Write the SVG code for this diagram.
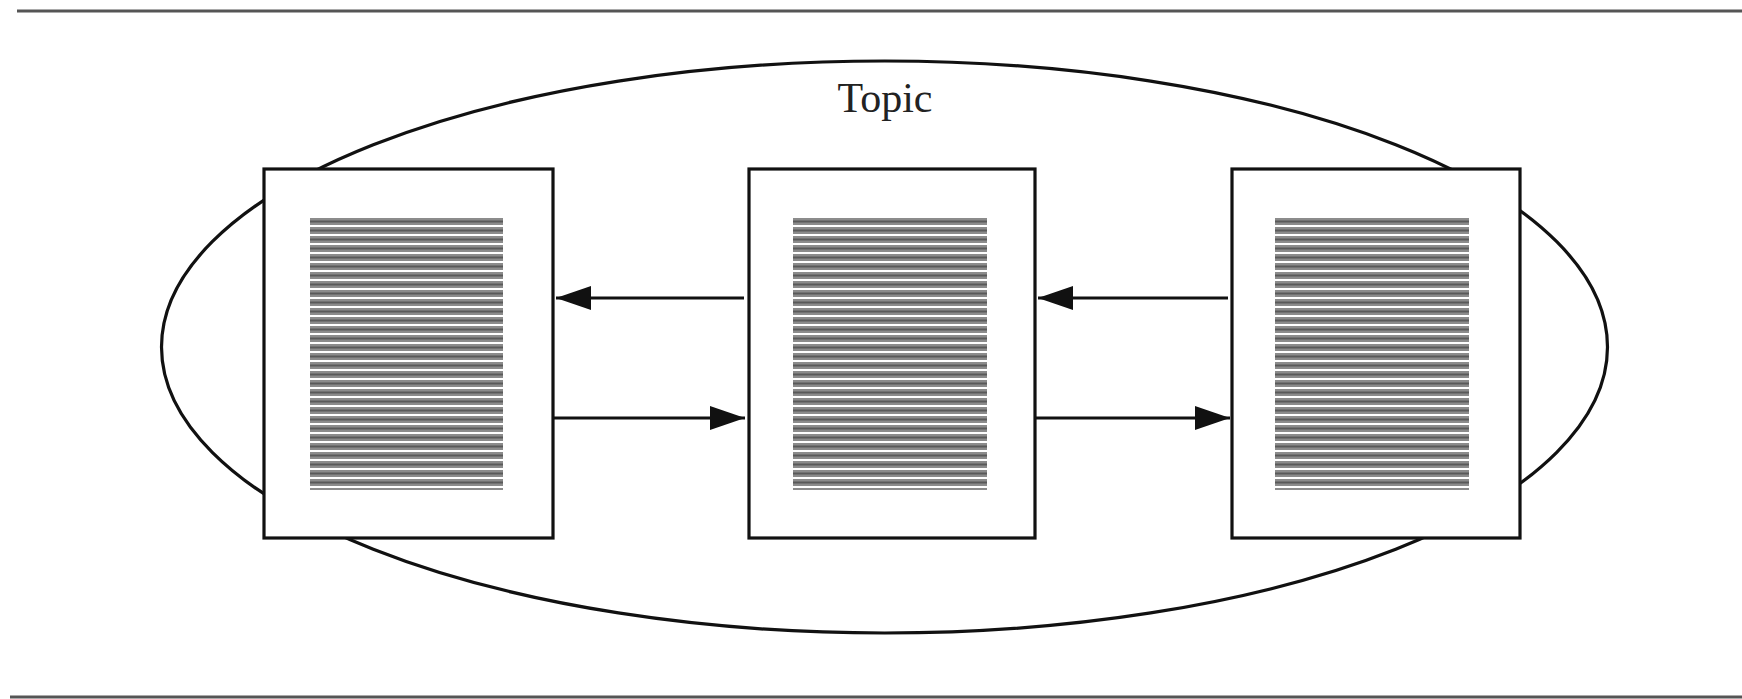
<svg xmlns="http://www.w3.org/2000/svg" width="1742" height="699" viewBox="0 0 1742 699">
<style>
.rule{stroke:#555;stroke-width:3;fill:none}
.ell{fill:none;stroke:#111;stroke-width:3.2}
.box{fill:#fff;stroke:#111;stroke-width:3.2}
.txt{fill:url(#lines)}
.conn{stroke:#111;stroke-width:2.8;fill:none;marker-end:url(#ah)}
.label{font-family:"Liberation Serif",serif;font-size:42px;fill:#222}
</style>
<defs>
<pattern id="lines" patternUnits="userSpaceOnUse" x="0" y="218" width="10" height="9">
<rect x="0" y="0" width="10" height="7" fill="#8c8c8c"/>
<rect x="0" y="2.5" width="10" height="2" fill="#5a5a5a"/>
</pattern>
<marker id="ah" viewBox="0 0 35 24" refX="35" refY="12" markerWidth="35" markerHeight="24" markerUnits="userSpaceOnUse" orient="auto">
<path d="M0,0 L35,12 L0,24 Z" fill="#111"/>
</marker>
</defs>
<rect width="1742" height="699" fill="#fff"/>
<line class="rule" x1="17" y1="11" x2="1742" y2="11"/>
<line class="rule" x1="10" y1="697" x2="1742" y2="697"/>
<g id="topic">
<ellipse class="ell" cx="884.5" cy="347" rx="723" ry="286"/>
<text class="label" x="885" y="112" text-anchor="middle">Topic</text>
</g>
<g id="doc-left">
<rect class="box" x="264" y="169" width="289" height="369"/>
<rect class="txt" x="310" y="218" width="193" height="272"/>
</g>
<g id="doc-middle">
<rect class="box" x="749" y="169" width="286" height="369"/>
<rect class="txt" x="793" y="218" width="194" height="272"/>
</g>
<g id="doc-right">
<rect class="box" x="1232" y="169" width="288" height="369"/>
<rect class="txt" x="1275" y="218" width="194" height="272"/>
</g>
<g id="connectors">
<line class="conn" x1="744" y1="298" x2="556" y2="298"/>
<line class="conn" x1="553" y1="418" x2="745" y2="418"/>
<line class="conn" x1="1228" y1="298" x2="1038" y2="298"/>
<line class="conn" x1="1035" y1="418" x2="1230" y2="418"/>
</g>
</svg>
